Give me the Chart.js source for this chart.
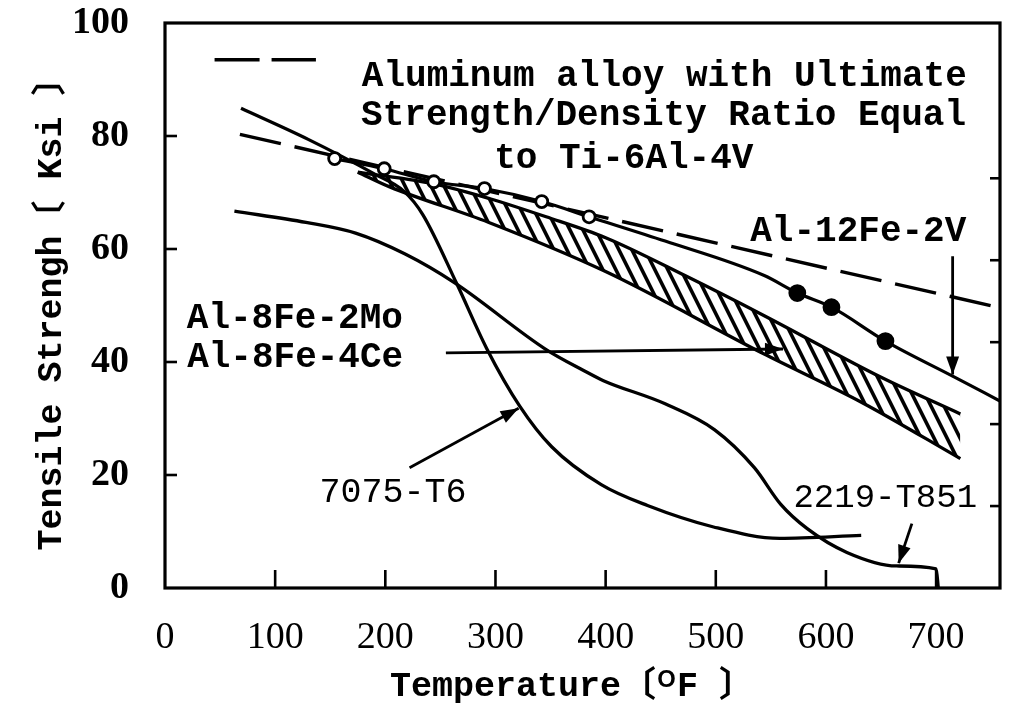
<!DOCTYPE html>
<html>
<head>
<meta charset="utf-8">
<script src="https://cdn.jsdelivr.net/npm/chart.js@4.4.1/dist/chart.umd.min.js"></script>
<style>
html,body{margin:0;padding:0;background:#fff;}
#wrap{width:1009px;height:707px;position:relative;}
canvas{display:block;}
</style>
</head>
<body>
<div id="wrap"><canvas id="c" width="1009" height="707"></canvas></div>
<script>
// ---------- data (temperature in °F, strength in ksi) ----------
const xTicks = [0, 100, 200, 300, 400, 500, 600, 700];
const yTicks = [0, 20, 40, 60, 80, 100];
const mpaTicks = [100, 200, 300, 400, 500];

// Al-12Fe-2V (open circles at low T, filled dots at high T)
const al12X = [154, 199, 244, 290, 342, 385, 454, 544, 574, 605, 654, 715, 758];
const al12Y = [76.0, 74.2, 71.9, 70.7, 68.4, 65.7, 61.4, 55.3, 52.2, 49.7, 43.7, 37.5, 33.1];
const al12Mark = ['o', 'o', 'o', 'o', 'o', 'o', '', '', 'f', 'f', 'f', '', ''];

// Aluminum alloy with strength/density equal to Ti-6Al-4V (dashed)
const tiX = [68, 758];
const tiY = [80.3, 49.6];
const tiLegendX = [45, 137];
const tiLegendY = [93.5, 93.5];

// 7075-T6
const t7075X = [69, 130, 190, 217, 234, 265, 292, 322, 351, 396, 438, 498, 558, 632];
const t7075Y = [84.9, 79.4, 73.3, 70.2, 66.1, 53.8, 42.4, 32.2, 25.0, 18.3, 14.6, 10.8, 8.8, 9.3];

// 2219-T851
const t2219X = [63, 128, 173, 218, 263, 346, 380, 398, 454, 499, 535, 559, 583, 619, 664, 700, 702];
const t2219Y = [66.7, 64.7, 62.8, 59.1, 54.0, 42.2, 38.5, 36.7, 32.6, 28.0, 21.3, 14.8, 10.5, 6.3, 3.9, 3.4, 0];

// Al-8Fe-2Mo / Al-8Fe-4Ce scatter band
const bandUpX = [175, 247, 295, 346, 400, 472, 544, 651, 722];
const bandUpY = [73.6, 71.4, 68.9, 65.7, 62.0, 55.3, 48.2, 37.2, 30.8];
const bandLoX = [175, 204, 294, 399, 543, 633, 722];
const bandLoY = [73.6, 71.0, 64.7, 56.1, 41.5, 32.8, 22.9];

// label arrows
const arrowFromX = [715, 255, 222, 678];
const arrowFromY = [58.7, 41.6, 21.3, 11.4];
const arrowToX = [715, 561, 321, 666];
const arrowToY = [37.8, 42.3, 31.8, 4.4];

// text notes
const noteText = ['Aluminum alloy with Ultimate', 'Strength/Density Ratio Equal', 'to Ti-6Al-4V',
                  'Al-12Fe-2V', 'Al-8Fe-2Mo', 'Al-8Fe-4Ce', '7075-T6', '2219-T851'];
const noteX = [178.7, 178.0, 298.8, 531.3, 19.8, 20.1, 140.2, 570.5];
const noteY = [90.5, 83.6, 76.0, 63.1, 47.7, 40.7, 16.9, 15.9];
const noteBold = [true, true, true, true, true, true, false, false];
const noteSize = [36, 36, 36, 36, 36, 36, 35, 34];

// ---------- helpers ----------
const MONO = "'Liberation Mono', 'DejaVu Sans Mono', 'Noto Sans CJK JP', monospace";
const pts = (xs, ys) => xs.map((x, i) => ({x: x, y: ys[i]}));

function makeHatch(ctx) {
  const w = 13, h = 26;
  const c = document.createElement('canvas');
  c.width = w; c.height = h;
  const g = c.getContext('2d');
  g.strokeStyle = '#000';
  g.lineWidth = 3.6;
  for (const o of [-2 * w, -w, 0, w, 2 * w]) {
    g.beginPath();
    g.moveTo(o - w / 2, -h / 2);
    g.lineTo(o + w * 1.5, h * 1.5);
    g.stroke();
  }
  return ctx.createPattern(c, 'repeat');
}

const canvas = document.getElementById('c');
const ctx0 = canvas.getContext('2d');
const hatch = makeHatch(ctx0);

const base = {
  borderColor: '#000', borderWidth: 3.3, pointRadius: 0, fill: false,
  cubicInterpolationMode: 'monotone', pointHoverRadius: 0
};

const datasets = [
  Object.assign({}, base, {
    label: 'Al-12Fe-2V', data: pts(al12X, al12Y),
    pointRadius: al12Mark.map(m => m === 'o' ? 6 : (m === 'f' ? 7.5 : 0)),
    pointBackgroundColor: al12Mark.map(m => m === 'f' ? '#000' : '#fff'),
    pointBorderColor: '#000', pointBorderWidth: 2.8, borderWidth: 3.2
  }),
  Object.assign({}, base, {
    label: 'Ti-6Al-4V equivalent', data: pts(tiX, tiY),
    borderDash: [42, 14], borderWidth: 3.4, cubicInterpolationMode: 'default', tension: 0
  }),
  Object.assign({}, base, {
    label: 'legend sample', data: pts(tiLegendX, tiLegendY),
    borderDash: [45, 12], borderWidth: 3.4, cubicInterpolationMode: 'default', tension: 0
  }),
  Object.assign({}, base, { label: '7075-T6', data: pts(t7075X, t7075Y) }),
  Object.assign({}, base, { label: '2219-T851', data: pts(t2219X, t2219Y) }),
  Object.assign({}, base, {
    label: 'band upper', data: pts(bandUpX, bandUpY),
    fill: '+1', backgroundColor: hatch
  }),
  Object.assign({}, base, { label: 'band lower', data: pts(bandLoX, bandLoY) })
];
for (let i = 0; i < arrowFromX.length; i++) {
  datasets.push(Object.assign({}, base, {
    label: 'arrow' + i, arrow: true, borderWidth: 2.8,
    cubicInterpolationMode: 'default', tension: 0,
    data: [{x: arrowFromX[i], y: arrowFromY[i]}, {x: arrowToX[i], y: arrowToY[i]}]
  }));
}

// ---------- plugins ----------
const framePlugin = {
  id: 'frame',
  afterDraw(chart) {
    const {ctx, chartArea: {left, right, top, bottom}, scales: {x, y, y2}} = chart;
    ctx.save();
    ctx.strokeStyle = '#000';
    ctx.lineWidth = 3.2;
    ctx.strokeRect(left, top, right - left, bottom - top);
    ctx.lineWidth = 2.6;
    const seg = (a, b, c, d) => { ctx.beginPath(); ctx.moveTo(a, b); ctx.lineTo(c, d); ctx.stroke(); };
    x.ticks.forEach(t => { if (t.value > 0) { const p = x.getPixelForValue(t.value); seg(p, bottom, p, bottom - 18); } });
    y.ticks.forEach(t => { if (t.value > 0 && t.value < 100) { const p = y.getPixelForValue(t.value); seg(left, p, left + 12, p); } });
    y2.ticks.forEach(t => { const p = y2.getPixelForValue(t.value); seg(right, p, right - 10, p); });
    ctx.restore();
  }
};

const arrowPlugin = {
  id: 'arrowheads',
  afterDatasetsDraw(chart) {
    const ctx = chart.ctx;
    ctx.save();
    ctx.fillStyle = '#000';
    chart.data.datasets.forEach((ds, i) => {
      if (!ds.arrow) return;
      const el = chart.getDatasetMeta(i).data;
      const a = el[el.length - 2], b = el[el.length - 1];
      const ang = Math.atan2(b.y - a.y, b.x - a.x);
      const L = 18, W = 6.5;
      ctx.beginPath();
      ctx.moveTo(b.x, b.y);
      ctx.lineTo(b.x - L * Math.cos(ang) + W * Math.sin(ang), b.y - L * Math.sin(ang) - W * Math.cos(ang));
      ctx.lineTo(b.x - L * Math.cos(ang) - W * Math.sin(ang), b.y - L * Math.sin(ang) + W * Math.cos(ang));
      ctx.closePath();
      ctx.fill();
    });
    ctx.restore();
  }
};

const notePlugin = {
  id: 'notes',
  afterDatasetsDraw(chart) {
    const {ctx, scales: {x, y}} = chart;
    ctx.save();
    ctx.fillStyle = '#000';
    ctx.textAlign = 'left';
    ctx.textBaseline = 'middle';
    noteText.forEach((t, i) => {
      ctx.font = (noteBold[i] ? 'bold ' : '') + noteSize[i] + 'px ' + MONO;
      ctx.fillText(t, x.getPixelForValue(noteX[i]), y.getPixelForValue(noteY[i]));
    });
    ctx.restore();
  }
};

new Chart(canvas, {
  type: 'line',
  data: { datasets: datasets },
  options: {
    responsive: false,
    devicePixelRatio: 1,
    animation: false,
    events: [],
    layout: { padding: { left: 0, right: 9, top: 23, bottom: 0 } },
    plugins: { legend: { display: false }, tooltip: { enabled: false } },
    scales: {
      x: {
        type: 'linear', position: 'bottom', min: 0, max: 758,
        afterBuildTicks: s => { s.ticks = xTicks.map(v => ({value: v})); },
        afterFit: s => { s.height = 119; s.paddingLeft = 0; s.paddingRight = 0; },
        grid: { display: false }, border: { display: false },
        ticks: { color: '#000', padding: 19, maxRotation: 0, autoSkip: false,
                 font: { family: "'Liberation Serif', serif", size: 38, lineHeight: 1.2 } },
        title: { display: true, text: 'Temperature\u3014\u1D3CF \u3015 ', color: '#000',
                 font: { family: MONO, size: 35, weight: 'bold', lineHeight: 1 },
                 padding: { top: 0, bottom: 2 } }
      },
      y: {
        type: 'linear', position: 'left', min: 0, max: 100,
        afterBuildTicks: s => { s.ticks = yTicks.map(v => ({value: v})); },
        afterFit: s => { s.width = 165; s.paddingTop = 0; s.paddingBottom = 0; },
        grid: { display: false }, border: { display: false },
        ticks: { color: '#000', padding: 28,
                 font: { family: "'Liberation Serif', serif", size: 38, weight: 'bold', lineHeight: 1.2 } },
        title: { display: true, text: 'Tensile Strengh\u3014 Ksi \u3015', color: '#000',
                 font: { family: MONO, size: 35, weight: 'bold', lineHeight: 1 },
                 padding: { top: 35, bottom: 0 } }
      },
      y2: {
        type: 'linear', position: 'right', min: 0, max: 689.5,
        afterBuildTicks: s => { s.ticks = mpaTicks.map(v => ({value: v})); },
        afterFit: s => { s.width = 0; s.paddingTop = 0; s.paddingBottom = 0; },
        grid: { display: false }, border: { display: false },
        ticks: { display: false }
      }
    }
  },
  plugins: [framePlugin, arrowPlugin, notePlugin]
});
</script>
</body>
</html>
